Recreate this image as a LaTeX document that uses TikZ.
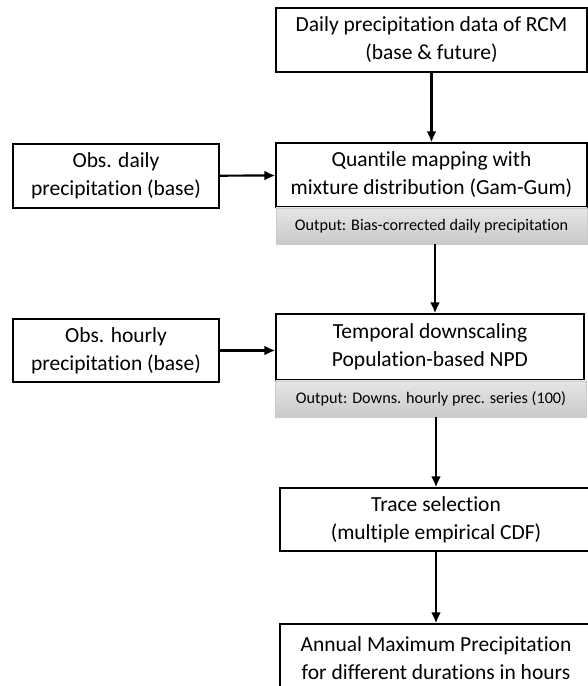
\documentclass[tikz,border=0pt]{standalone}
\usepackage{fontspec}
\setmainfont{Carlito}[Ligatures=NoCommon]
\usetikzlibrary{positioning,arrows.meta}

\begin{document}
\begin{tikzpicture}[x=1pt, y=-1pt, >={Latex[length=11pt,width=10pt]},
        font=\fontsize{21.5}{28}\selectfont,
        box/.style={draw, fill=white, line width=1.3pt, rectangle,
            minimum height=64pt, inner sep=0pt, align=center},
        outbox/.style={draw=gray!40, top color=gray!20, bottom color=gray!42,
            minimum height=36pt, inner sep=0pt,
            font=\fontsize{16.2}{18}\selectfont},
        flow/.style={->, line width=2.2pt}]
        \useasboundingbox (0,0) rectangle (588,686);
        \clip (0,0) rectangle (588,686);
        \node[box, minimum width=311pt] (rcm) at (431.5,40)
            {Daily precipitation data of RCM\\(base \& future)};
        \node[box, minimum width=311pt] (qm) at (431.5,175)
            {Quantile mapping with\\mixture distribution (Gam-Gum)};
        \node[outbox, minimum width=311pt, below=0pt of qm] (qmout)
            {Output: Bias-corrected daily precipitation};
        \node[box, minimum width=206pt] (obsd) at (116,176)
            {Obs. daily\\precipitation (base)};
        \node[box, minimum width=308pt, minimum height=66pt] (td) at (430,347)
            {Temporal downscaling\\Population-based NPD};
        \node[outbox, minimum width=311pt, below=0pt of td.south west,
              anchor=north west] (tdout)
            {Output: Downs. hourly prec. series (100)};
        \node[box, minimum width=206pt, minimum height=63pt] (obsh) at (116,350.5)
            {Obs. hourly\\precipitation (base)};
        \node[box, minimum width=312pt, minimum height=63pt] (trace) at (436,519.5)
            {Trace selection\\(multiple empirical CDF)};
        \node[box, minimum width=312pt, minimum height=68pt] (amp) at (436,658)
            {Annual Maximum Precipitation\\for different durations in hours};
        \draw[flow] (rcm)   -- (qm);
        \draw[flow] (obsd)  -- (qm);
        \draw[flow] ([xshift=-1pt]qmout.south -| trace.north)
            -- ([xshift=-1pt]td.north -| trace.north);
        \draw[flow] (obsh.east) -- (obsh.east -| td.west);
        \draw[flow] (tdout.south -| trace.north) -- (trace.north);
        \draw[flow] (trace) -- (amp);
    \end{tikzpicture}
\end{document}
